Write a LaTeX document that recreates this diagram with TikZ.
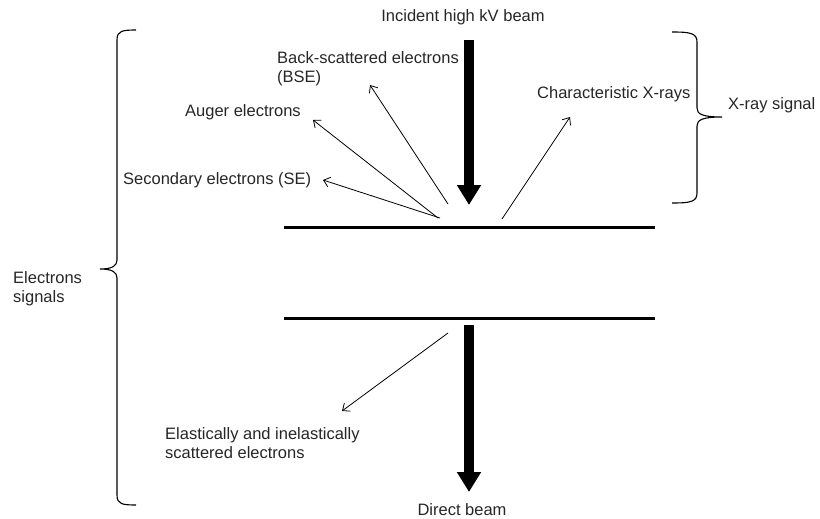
\documentclass[tikz,border=0pt]{standalone}
\usepackage{fontspec}
\setmainfont{Liberation Sans}
\usetikzlibrary{arrows.meta}
\begin{document}
\begin{tikzpicture}[x=1pt,y=-1pt,
  lbl/.style={font=\fontsize{16.5}{19}\selectfont, inner sep=0pt, align=left, text=black!85},
  thin/.style={line width=0.8pt, -{Straight Barb[length=6pt,width=10pt]}},
  beam/.style={line width=10pt, -{Triangle[length=20pt,width=23pt]}},
  plate/.style={line width=3pt},
  brace/.style={line width=1.1pt}]
\useasboundingbox (0,0) rectangle (820,519);
% labels
\node[lbl] (inc) at (463,17) {Incident high kV beam};
\node[lbl] (dir) at (462,510) {Direct beam};
\node[lbl, anchor=west] (bse) at (277,69) {Back-scattered electrons\\(BSE)};
\node[lbl, anchor=west] (aug) at (185,112) {Auger electrons};
\node[lbl, anchor=west] (se) at (123,180) {Secondary electrons (SE)};
\node[lbl, anchor=west] (cx) at (537,94) {Characteristic X-rays};
\node[lbl, anchor=west] (xs) at (728,105) {X-ray signal};
\node[lbl, anchor=west] (es) at (13,289) {Electrons\\signals};
\node[lbl, anchor=west] (el) at (165,443) {Elastically and inelastically\\scattered electrons};
% plates
\coordinate (p1l) at (284,227); \coordinate (p1r) at (655,227);
\coordinate (p2l) at (284,318); \coordinate (p2r) at (655,318);
\draw[plate] (p1l) -- (p1r);
\draw[plate] (p2l) -- (p2r);
% beams
\coordinate (b1s) at (469,40); \coordinate (b1e) at (469,205);
\coordinate (b2s) at (469,325); \coordinate (b2e) at (469,492);
\draw[beam] (b1s) -- (b1e);
\draw[beam] (b2s) -- (b2e);
% thin arrows
\coordinate (oSE) at (440,218); \coordinate (eSE) at (323,180);
\coordinate (oAU) at (438,218); \coordinate (eAU) at (313,120);
\coordinate (oBS) at (448,204); \coordinate (eBS) at (370,85);
\coordinate (oCX) at (502,219); \coordinate (eCX) at (570,117);
\coordinate (oEL) at (448,333); \coordinate (eEL) at (342,411);
\draw[thin] (oSE) -- (eSE);
\draw[thin] (oAU) -- (eAU);
\draw[thin] (oBS) -- (eBS);
\draw[thin] (oCX) -- (eCX);
\draw[thin] (oEL) -- (eEL);
% left brace
\draw[brace] (136,30) .. controls (122,30) and (117,31) .. (117,40)
  -- (117,260) .. controls (117,266) and (112,269) .. (100,269)
  .. controls (112,269) and (117,272) .. (117,278)
  -- (117,495) .. controls (117,504) and (122,505) .. (136,505);
% right brace
\draw[brace] (672,32) .. controls (690,32) and (697,33) .. (697,42)
  -- (697,108) .. controls (697,114) and (702,117) .. (722,117)
  .. controls (702,117) and (697,120) .. (697,126)
  -- (697,193) .. controls (697,202) and (690,203) .. (672,203);
\end{tikzpicture}
\end{document}
